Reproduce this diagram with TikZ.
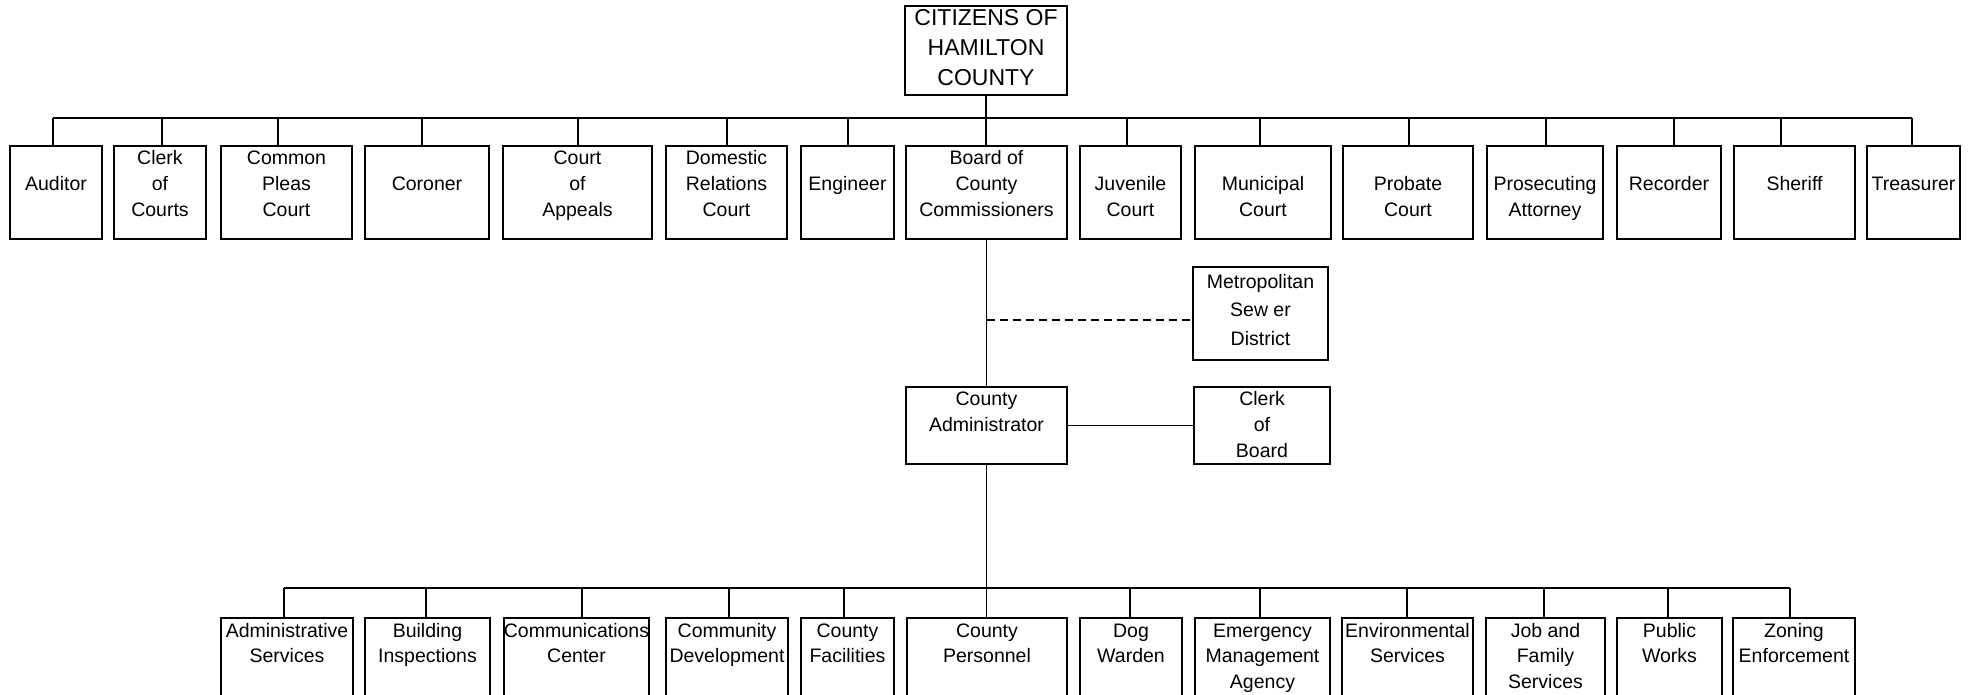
\documentclass[tikz,border=0pt]{standalone}
\usepackage{fontspec}
\setmainfont{Liberation Sans}
\usetikzlibrary{calc}
\newcommand\threeln[3]{\strut#1\\\strut#2\\\strut#3}
\tikzset{
  box/.style={draw, line width=1.1pt, inner sep=0pt, rectangle},
  lt/.style={align=center, inner sep=0pt, font=\fontsize{9.75pt}{12.9pt}\selectfont},
  conn/.style={line width=0.65pt},
  dline/.style={line width=0.65pt, dash pattern=on 4pt off 2.5pt},
}
\newcommand\topbox[6]{\node[box, minimum width={(#3-#2)*0.5pt}, minimum height={93*0.5pt},
  label={[lt,yshift=3.7pt]center:{\threeln{#4}{#5}{#6}}}] (#1) at ({(#2+#3)/2},192.5) {};}
\newcommand\lowbox[6]{\node[box, minimum width={(#3-#2)*0.5pt}, minimum height={79.6*0.5pt},
  label={[lt]center:{\threeln{#4}{#5}{#6}}}] (#1) at ({(#2+#3)/2},657.8) {};}
\begin{document}
\begin{tikzpicture}[x=0.5pt, y=-0.5pt]
\useasboundingbox (0,0) rectangle (1978,695);
\clip (0,0) rectangle (1978,695);

% top node
\node[box, minimum width={162*0.5pt}, minimum height={89*0.5pt},
  label={[lt, font=\fontsize{11.5pt}{15pt}\selectfont, yshift=0.6pt]center:{\threeln{CITIZENS OF}{HAMILTON}{COUNTY}}}] (citizens) at (986,50.5) {};

% top row
\topbox{auditor}{10}{102}{}{Auditor}{}
\topbox{clerkc}{114}{206}{Clerk}{of}{Courts}
\topbox{common}{221}{352}{Common}{Pleas}{Court}
\topbox{coroner}{365}{489}{}{Coroner}{}
\topbox{courtapp}{503}{652}{Court}{of}{Appeals}
\topbox{domestic}{666}{787}{Domestic}{Relations}{Court}
\topbox{engineer}{801}{894}{}{Engineer}{}
\topbox{board}{906}{1067}{Board of}{County}{Commissioners}
\topbox{juvenile}{1080}{1181}{}{Juvenile}{Court}
\topbox{municipal}{1195}{1331}{}{Municipal}{Court}
\topbox{probate}{1343}{1473}{}{Probate}{Court}
\topbox{prosecuting}{1487}{1603}{}{Prosecuting}{Attorney}
\topbox{recorder}{1617}{1721}{}{Recorder}{}
\topbox{sheriff}{1734}{1855}{}{Sheriff}{}
\topbox{treasurer}{1867}{1960}{}{Treasurer}{}

% middle
\node[box, line width=0.9pt, minimum width={135*0.5pt}, minimum height={93*0.5pt},
  label={[lt, font=\fontsize{9.75pt}{14.2pt}\selectfont, yshift=1.1pt]center:{\threeln{Metropolitan}{Sew er}{District}}}] (msd) at (1260.5,313.5) {};
\node[box, minimum width={161*0.5pt}, minimum height={77*0.5pt},
  label={[lt, yshift=-0.3pt]center:{\threeln{County}{Administrator}{}}}] (admin) at (986.5,425.5) {};
\node[box, minimum width={136*0.5pt}, minimum height={77*0.5pt},
  label={[lt, yshift=-0.3pt]center:{\threeln{Clerk}{of}{Board}}}] (clerkb) at (1262,425.5) {};

% bottom row
\lowbox{adms}{221}{353}{Administrative}{Services}{}
\lowbox{build}{365}{490}{Building}{Inspections}{}
\lowbox{comm}{504}{649}{Communications}{Center}{}
\lowbox{commdev}{666}{788}{Community}{Development}{}
\lowbox{facil}{801}{894}{County}{Facilities}{}
\lowbox{pers}{907}{1067}{County}{Personnel}{}
\lowbox{dog}{1080}{1182}{Dog}{Warden}{}
\lowbox{emerg}{1195}{1330}{Emergency}{Management}{Agency}
\lowbox{env}{1342}{1473}{Environmental}{Services}{}
\lowbox{job}{1486}{1605}{Job and}{Family}{Services}
\lowbox{pw}{1617}{1722}{Public}{Works}{}
\lowbox{zon}{1733}{1855}{Zoning}{Enforcement}{}

% top bus
\coordinate (tbus) at (0,118);
\foreach \n/\o in {auditor/-3, clerkc/2, common/-8.5, coroner/-5, courtapp/0.5, domestic/0.5,
  engineer/0.5, juvenile/-3.5, municipal/-3, probate/1, prosecuting/1, recorder/5, sheriff/-13.5, treasurer/-1.5} {
  \coordinate (\n-c) at ($(\n.north)+(\o,0)$);
  \draw[conn] (\n-c) -- (\n-c |- tbus);
}
\draw[conn] (auditor-c |- tbus) -- (treasurer-c |- tbus);
\draw[conn] (citizens.south) -- (citizens.south |- board.north);

% middle connectors
\draw[conn] (board.south) -- (board.south |- admin.north);
\coordinate (dashR) at ($(msd.west)+(0,6.5)$);
\draw[dline] (dashR -| board.south) -- (dashR);
\draw[conn] (admin.east) -- (clerkb.west);

% lower bus
\coordinate (lbus) at (0,588);
\foreach \n/\o in {adms/-3, build/-1.5, comm/5.5, commdev/2, facil/-3.5, dog/-1, emerg/-2.5,
  env/-0.5, job/-1.5, pw/-1.5, zon/-4} {
  \coordinate (\n-c) at ($(\n.north)+(\o,0)$);
  \draw[conn] (\n-c) -- (\n-c |- lbus);
}
\draw[conn] (adms-c |- lbus) -- (zon-c |- lbus);
\draw[conn] (admin.south) -- (admin.south |- pers.north);
\end{tikzpicture}
\end{document}
